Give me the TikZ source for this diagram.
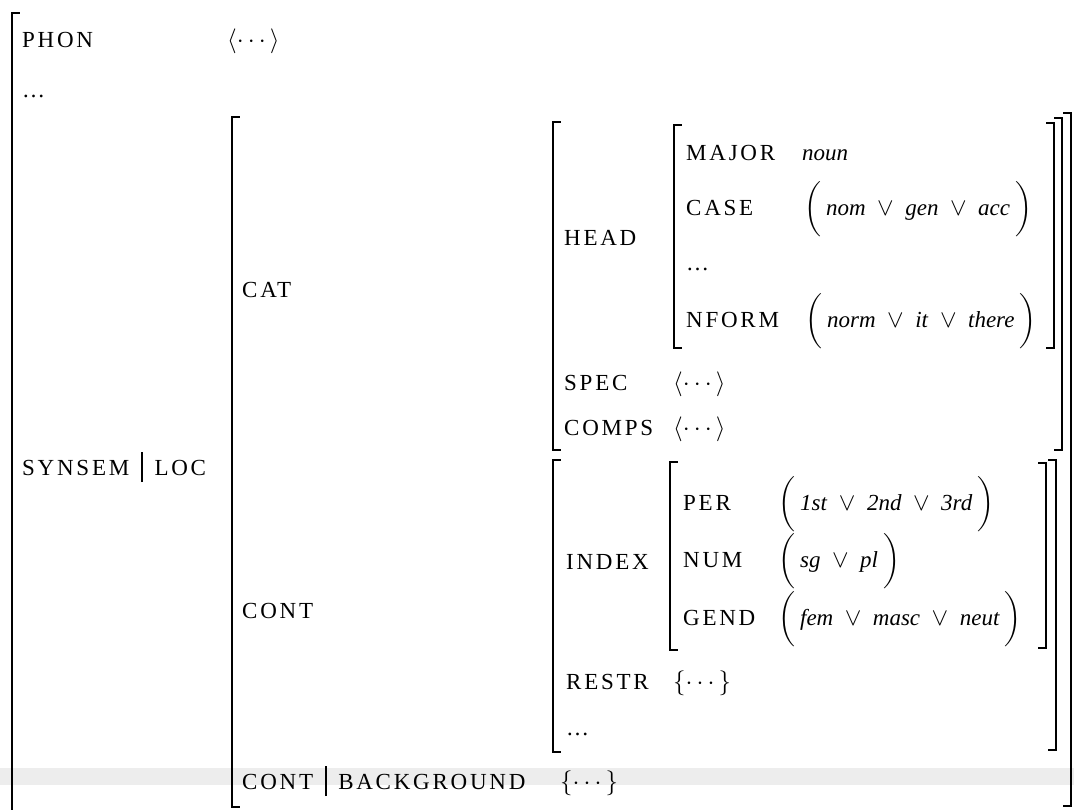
\documentclass[tikz,border=0pt]{standalone}
\usepackage{amsmath, amssymb}
\usepackage{fontspec}
\setmainfont{Liberation Serif}
\newfontfamily\avmcaps[LetterSpace=12]{Liberation Serif}
\usepackage{tikz}

\newcommand{\avmor}{\enspace$\vee$\enspace}
\newcommand{\avmbar}{\enspace\rule[-7pt]{2.2pt}{30pt}\enspace}
\newcommand{\avmalt}[1]{$\left(\rule[-20pt]{0pt}{50pt}\text{\hspace{5pt}#1\hspace{5pt}}\right)$}
\newcommand{\avmopen}[3]{\draw[avmline] (#1+7,#2) -- (#1,#2) -- (#1,#3) -- (#1+7,#3);}
\newcommand{\avmclose}[3]{\draw[avmline] (#1-7,#2) -- (#1,#2) -- (#1,#3) -- (#1-7,#3);}

\tikzset{
	every node/.style={inner sep=0pt, anchor=base west, font=\fontsize{23}{28}\selectfont},
	avmkey/.style={font=\fontsize{23}{28}\selectfont\avmcaps},
	avmval/.style={},
	avmline/.style={line width=1.8pt, line cap=rect},
}

\begin{document}
\begin{tikzpicture}[x=1pt, y=-1pt]
				\useasboundingbox (0,0) rectangle (1074,809);
				\clip (0,0) rectangle (1074,809);
				% scan band
				\fill[gray!14] (0,768) rectangle (1074,785);
				
				% Draw top level
				\node[avmkey] (phon) at (22,47) {PHON};
				\node[avmval] (phonv) at (227,47) {$\langle\cdots\rangle$};
				\node[avmval] (topdots) at (22,97) {\dots};
				\node[avmkey] (synloc) at (22,475) {SYNSEM\avmbar LOC};
				\avmopen{12}{13}{830}
				
				% Draw SYNSEM|LOC value
				\node[avmkey] (cat) at (242,297) {CAT};
				\node[avmkey] (cont) at (242,618) {CONT};
				\node[avmkey] (bground) at (242,789) {CONT\avmbar BACKGROUND};
				\node[avmval] (bgroundv) at (560,789) {$\{\cdots\}$};
				\avmopen{232}{117}{807}
				\avmclose{1071}{113}{806}
				
				% Draw CAT value
				\node[avmkey] (head) at (564,245) {HEAD};
				\node[avmkey] (major) at (686,160) {MAJOR};
				\node[avmval] (majorv) at (802,160) {\textit{noun}};
				\node[avmkey] (case) at (686,215) {CASE};
				\node[avmval] (casev) at (804,215) {\avmalt{\textit{nom}\avmor\textit{gen}\avmor\textit{acc}}};
				\node[avmval] (headdots) at (686,270) {\dots};
				\node[avmkey] (nform) at (686,327) {NFORM};
				\node[avmval] (nformv) at (805,327) {\avmalt{\textit{norm}\avmor\textit{it}\avmor\textit{there}}};
				\node[avmkey] (spec) at (564,390) {SPEC};
				\node[avmval] (specv) at (673,390) {$\langle\cdots\rangle$};
				\node[avmkey] (comps) at (564,435) {COMPS};
				\node[avmval] (compsv) at (673,435) {$\langle\cdots\rangle$};
				\avmopen{553}{122}{450}
				\avmclose{1062}{118}{450}
				\avmopen{674}{125}{348}
				\avmclose{1054}{123}{348}
				
				% Draw CONT value
				\node[avmkey] (index) at (566,569) {INDEX};
				\node[avmkey] (per) at (683,510) {PER};
				\node[avmval] (perv) at (778,510) {\avmalt{\textit{1st}\avmor\textit{2nd}\avmor\textit{3rd}}};
				\node[avmkey] (num) at (683,567) {NUM};
				\node[avmval] (numv) at (778,567) {\avmalt{\textit{sg}\avmor\textit{pl}}};
				\node[avmkey] (gend) at (683,625) {GEND};
				\node[avmval] (gendv) at (778,625) {\avmalt{\textit{fem}\avmor\textit{masc}\avmor\textit{neut}}};
				\node[avmkey] (restr) at (566,689) {RESTR};
				\node[avmval] (restrv) at (673,689) {$\{\cdots\}$};
				\node[avmval] (contdots) at (566,735) {\dots};
				\avmopen{553}{460}{752}
				\avmclose{1056}{460}{750}
				\avmopen{670}{462}{650}
				\avmclose{1046}{463}{648}
			\end{tikzpicture}
\end{document}
